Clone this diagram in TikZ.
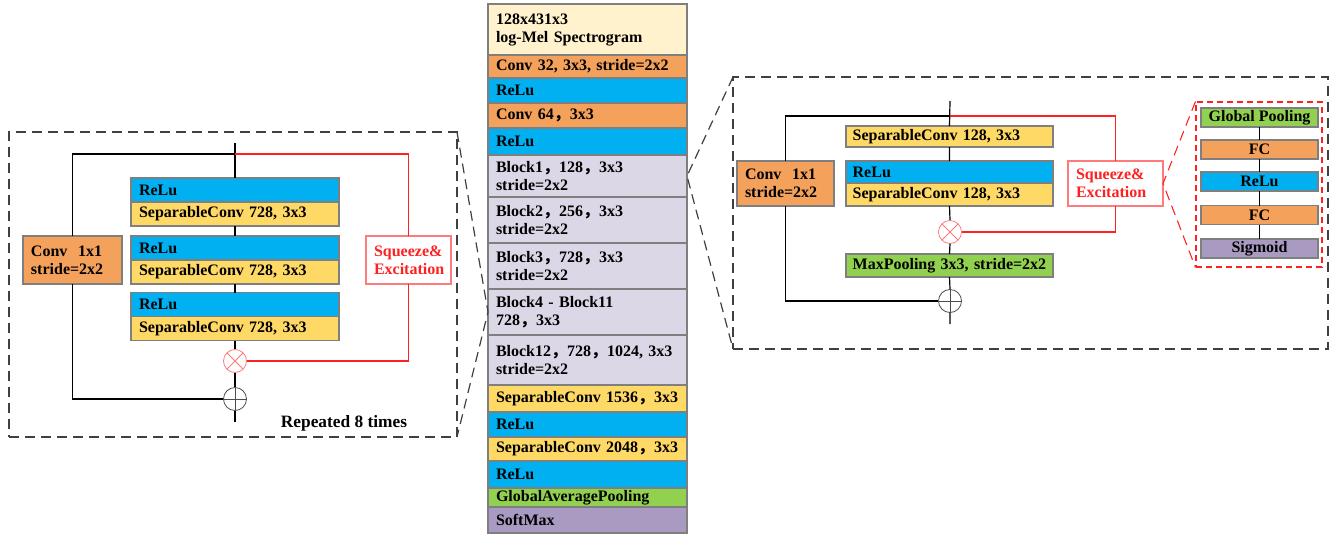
\documentclass[tikz,border=0pt]{standalone}
\usepackage{fontspec}
\setmainfont{Liberation Serif}
\newfontfamily\cjk{Noto Sans CJK SC}
\usetikzlibrary{positioning}
\newcommand\zc{{\cjk ，}}
\definecolor{cream}{HTML}{FFF2CC}
\definecolor{conv}{HTML}{F4A15C}
\definecolor{relu}{HTML}{00B0F0}
\definecolor{block}{HTML}{DCD7E6}
\definecolor{sep}{HTML}{FFD966}
\definecolor{pool}{HTML}{92D050}
\definecolor{soft}{HTML}{A99AC2}
\definecolor{sered}{HTML}{FF2020}
\definecolor{sepink}{HTML}{FF7A7A}
\definecolor{edge}{HTML}{7F7F7F}
\tikzset{
  lay/.style={draw=edge, line width=0.8pt, outer sep=0pt, inner xsep=6pt, inner ysep=1pt, align=left},
  colrow/.style={lay, text width=137.25pt, minimum height=#1},
  lblk/.style={lay, text width=144pt, minimum height=18pt},
  rblk/.style={lay, inner xsep=5pt, text width=145.25pt, minimum height=#1},
  sebox/.style={lay, draw=sepink, fill=white, text=sered},
  sebk/.style={draw=edge, line width=0.8pt, outer sep=0pt, inner sep=0pt, minimum width=87.75pt, minimum height=14.25pt},
  opmul/.style={circle, draw=sepink, line width=0.6pt, inner sep=0pt, minimum size=17.25pt,
    path picture={\draw[sepink, line width=0.6pt] (path picture bounding box.north west) -- (path picture bounding box.south east)
      (path picture bounding box.north east) -- (path picture bounding box.south west);}},
  opsum/.style={circle, draw=black!70, line width=0.6pt, inner sep=0pt, minimum size=17.25pt,
    path picture={\draw[black!70, line width=0.6pt] (path picture bounding box.north) -- (path picture bounding box.south)
      (path picture bounding box.west) -- (path picture bounding box.east);}},
  wire/.style={black, line width=0.9pt},
  seline/.style={sered, line width=0.8pt},
  zoombox/.style={draw=black!75, line width=1pt, dash pattern=on 7.5pt off 4.5pt, outer sep=0pt, inner sep=0pt},
  zoomline/.style={black!75, line width=0.9pt, dash pattern=on 7.5pt off 4.5pt}
}

\begin{document}
\begin{tikzpicture}[x=0.75pt, y=-0.75pt, font=\fontsize{12}{13.5}\selectfont\bfseries, node distance=0pt]
    \useasboundingbox (0,0) rectangle (1334,533);

    % zoom frames
    \node[zoombox, minimum width=336pt, minimum height=228.75pt] (lzoom) at (233,284.5) {};
    \node[zoombox, minimum width=446.25pt, minimum height=204pt] (rzoom) at (1030.5,213) {};

    % network column
    \node[colrow=38.25pt, fill=cream, anchor=north west] (inp) at (488,4) {128x431x3\\log-Mel Spectrogram};
    \node[colrow=17.25pt, fill=conv, below=of inp] (c32) {Conv 32, 3x3, stride=2x2};
    \node[colrow=18.75pt, fill=relu, below=of c32] (a1) {ReLu};
    \node[colrow=18.75pt, fill=conv, below=of a1] (c64) {Conv 64\zc 3x3};
    \node[colrow=20.25pt, fill=relu, below=of c64] (a2) {ReLu};
    \node[colrow=31.5pt, fill=block, below=of a2] (b1) {Block1\zc 128\zc 3x3\\stride=2x2};
    \node[colrow=34.5pt, fill=block, below=of b1] (b2) {Block2\zc 256\zc 3x3\\stride=2x2};
    \node[colrow=34.5pt, fill=block, below=of b2] (b3) {Block3\zc 728\zc 3x3\\stride=2x2};
    \node[colrow=34.5pt, fill=block, below=of b3] (b4) {Block4 - Block11\\728\zc 3x3};
    \node[colrow=37.5pt, fill=block, below=of b4] (b12) {Block12\zc 728\zc 1024, 3x3\\stride=2x2};
    \node[colrow=20.25pt, fill=sep, below=of b12] (s1) {SeparableConv 1536\zc 3x3};
    \node[colrow=18.75pt, fill=relu, below=of s1] (a3) {ReLu};
    \node[colrow=18pt, fill=sep, below=of a3] (s2) {SeparableConv 2048\zc 3x3};
    \node[colrow=20.25pt, fill=relu, below=of s2] (a4) {ReLu};
    \node[colrow=14.25pt, fill=pool, below=of a4] (gap) {GlobalAveragePooling};
    \node[colrow=19.5pt, fill=soft, below=of gap] (smax) {SoftMax};

    % middle flow block
    \coordinate (ltop) at (235,143);
    \coordinate (lsplit) at (235,154);
    \coordinate (lbot) at (235,422);
    \node[lblk, fill=relu] (lr1) at (235,190) {ReLu};
    \node[lblk, fill=sep, below=of lr1] (ls1) {SeparableConv 728, 3x3};
    \node[lblk, fill=relu] (lr2) at (235,248) {ReLu};
    \node[lblk, fill=sep, below=of lr2] (ls2) {SeparableConv 728, 3x3};
    \node[lblk, fill=relu] (lr3) at (235,304.5) {ReLu};
    \node[lblk, fill=sep, below=of lr3] (ls3) {SeparableConv 728, 3x3};
    \node[lay, fill=conv, text width=62.25pt, minimum height=36pt] (lconv) at (72.5,260) {Conv\ \ 1x1\\stride=2x2};
    \node[sebox, text width=51.75pt, minimum height=36pt] (lse) at (408.5,260) {Squeeze\&\\Excitation};
    \node[opmul] (lmul) at (235,361) {};
    \node[opsum] (ladd) at (235,399) {};
    \node[font=\fontsize{13}{15}\selectfont\bfseries] (lrep) at (344,423) {Repeated 8 times};
    \draw[wire] (ltop) -- (lr1.north) (ls1.south) -- (lr2.north) (ls2.south) -- (lr3.north)
        (ls3.south) -- (lmul.north) (lmul.south) -- (ladd.north) (ladd.south) -- (lbot);
    \draw[wire] (lsplit) -| (lconv.north) (lconv.south) |- (ladd.west);
    \draw[seline] (lsplit) -| (lse.north) (lse.south) |- (lmul.east);

    % entry / exit block
    \coordinate (rtop) at (950,101);
    \coordinate (rsplit) at (950,116);
    \coordinate (rbot) at (950,324);
    \node[rblk=15.75pt, fill=sep] (rs1) at (949.5,136.5) {SeparableConv 128, 3x3};
    \node[rblk=16.5pt, fill=relu] (rr) at (949.5,172) {ReLu};
    \node[rblk=17.25pt, fill=sep, below=of rr] (rs2) {SeparableConv 128, 3x3};
    \node[opmul] (rmul) at (950,232) {};
    \node[rblk=17.25pt, fill=pool] (rpool) at (949.5,265.5) {\mbox{MaxPooling 3x3, stride=2x2}};
    \node[opsum] (radd) at (950,301) {};
    \node[lay, fill=conv, text width=60.75pt, minimum height=33.75pt] (rconv) at (785.5,183.5) {Conv\ \ 1x1\\stride=2x2};
    \node[sebox, text width=59.25pt, minimum height=33.75pt] (rse) at (1115.5,183.5) {Squeeze\&\\Excitation};
    \draw[wire] (rtop) -- (rs1.north) (rs1.south) -- (rr.north) (rs2.south) -- (rmul.north)
        (rmul.south) -- (rpool.north) (rpool.south) -- (radd.north) (radd.south) -- (rbot);
    \draw[wire] (rsplit) -| (rconv.north) (rconv.south) |- (radd.west);
    \draw[seline] (rsplit) -| (rse.north) (rse.south) |- (rmul.east);

    % squeeze and excitation detail
    \node[draw=sered, line width=0.8pt, dash pattern=on 4.5pt off 3pt, minimum width=94.5pt, minimum height=123.75pt] (sedet) at (1259,184.5) {};
    \node[sebk, fill=pool] (gp) at (1259.5,117.5) {Global Pooling};
    \node[sebk, fill=conv] (fc1) at (1259.5,149.5) {FC};
    \node[sebk, fill=relu] (rl) at (1259.5,181.5) {ReLu};
    \node[sebk, fill=conv] (fc2) at (1259.5,215) {FC};
    \node[sebk, fill=soft] (sig) at (1259.5,248.5) {Sigmoid};
    \draw[wire, line width=0.7pt] (gp) -- (fc1) -- (rl) -- (fc2) -- (sig);
    \draw[sered, line width=0.8pt, dash pattern=on 7.5pt off 4.5pt] (sedet.north west) -- (rse.east) -- (sedet.south west);

    % zoom connectors
    \draw[zoomline] (lzoom.north east) -- (b4.west) -- (lzoom.south east);
    \draw[zoomline] (rzoom.north west) -- (b1.east) -- (rzoom.south west);
\end{tikzpicture}
\end{document}
